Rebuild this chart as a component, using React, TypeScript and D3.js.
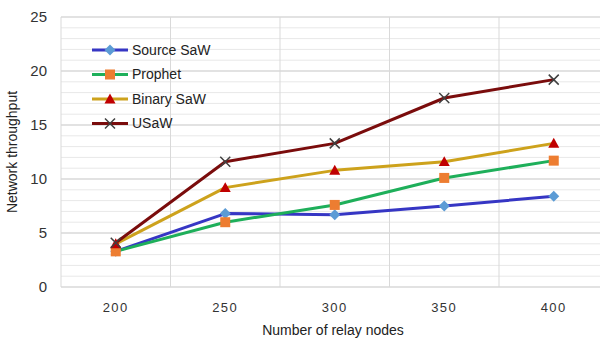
import React from "react";
import * as d3 from "d3";

const categories = ["200", "250", "300", "350", "400"];
const seriesNames = ["Source SaW", "Prophet", "Binary SaW", "USaW"];
const sourceSaW = [3.3, 6.8, 6.7, 7.5, 8.4];
const prophet = [3.3, 6.0, 7.6, 10.1, 11.7];
const binarySaW = [4.0, 9.2, 10.8, 11.6, 13.3];
const uSaW = [4.1, 11.6, 13.3, 17.5, 19.2];
const yTicks = [0, 5, 10, 15, 20, 25];
const minorTicks = d3.range(0, 26, 1);

const W = 600, H = 343;
const left = 61, right = 608.5, top = 17, bottom = 287;

const lineColors = ["#3636c4", "#1eaf5a", "#cda21c", "#7a0c0c"];
const markerColors = ["#5b9bd5", "#ed7d31", "#c00000", "#404040"];
const markerTypes = ["diamond", "square", "triangle", "x"];

function Marker({ type, x, y, color }: { type: string; x: number; y: number; color: string }) {
  if (type === "diamond") {
    const s = 5.5;
    return <path d={`M${x},${y - s}L${x + s},${y}L${x},${y + s}L${x - s},${y}Z`} fill={color} />;
  }
  if (type === "square") {
    const s = 5;
    return <rect x={x - s} y={y - s} width={2 * s} height={2 * s} fill={color} />;
  }
  if (type === "triangle") {
    const s = 5.5;
    return <path d={`M${x},${y - s}L${x + s},${y + s * 0.8}L${x - s},${y + s * 0.8}Z`} fill={color} />;
  }
  const s = 5;
  return (
    <path d={`M${x - s},${y - s}L${x + s},${y + s}M${x + s},${y - s}L${x - s},${y + s}`} stroke={color} strokeWidth={1.5} fill="none" />
  );
}

export default function App() {
  const x = d3.scaleBand<string>().domain(categories).range([left, right]).padding(0);
  const y = d3.scaleLinear().domain([0, 25]).range([bottom, top]);
  const data = [sourceSaW, prophet, binarySaW, uSaW];
  const line = d3
    .line<number>()
    .x((_, i) => (x(categories[i]) as number) + x.bandwidth() / 2)
    .y((d) => y(d));
  const font = "'Liberation Sans', Arial, sans-serif";
  const boundaries = categories.map((c) => x(c) as number);

  return (
    <svg width={W} height={H} style={{ position: "absolute", left: 0, top: 0, background: "#fff" }} fontFamily={font}>
      <rect width={W} height={H} fill="#fff" />
      {minorTicks.filter((t) => t % 5 !== 0).map((t) => (
        <line key={"m" + t} x1={left} x2={right} y1={y(t)} y2={y(t)} stroke="#e8e8e8" strokeWidth={1} />
      ))}
      {boundaries.map((b, i) => (
        <line key={"v" + i} x1={b} x2={b} y1={top} y2={bottom} stroke="#d9d9d9" strokeWidth={1} />
      ))}
      {yTicks.map((t) => (
        <line key={"g" + t} x1={left} x2={right} y1={y(t)} y2={y(t)} stroke="#d9d9d9" strokeWidth={1.5} />
      ))}
      {yTicks.map((t) => (
        <text key={"yt" + t} x={47} y={y(t)} dy="0.35em" textAnchor="end" fontSize={15} fill="#333">
          {t}
        </text>
      ))}
      {categories.map((c) => (
        <text key={"xt" + c} x={(x(c) as number) + x.bandwidth() / 2} y={312} textAnchor="middle" fontSize={13} letterSpacing={1.5} fill="#333">
          {c}
        </text>
      ))}
      <text x={333} y={335} textAnchor="middle" fontSize={14} fill="#222">
        Number of relay nodes
      </text>
      <text transform={`translate(17,${(top + bottom) / 2}) rotate(-90)`} textAnchor="middle" fontSize={14} fill="#222">
        Network throughput
      </text>
      {data.map((d, si) => (
        <path key={"l" + si} d={line(d) as string} fill="none" stroke={lineColors[si]} strokeWidth={3} strokeLinejoin="round" />
      ))}
      {data.map((d, si) =>
        d.map((v, i) => (
          <Marker key={"mk" + si + "-" + i} type={markerTypes[si]} x={(x(categories[i]) as number) + x.bandwidth() / 2} y={y(v)} color={markerColors[si]} />
        ))
      )}
      {seriesNames.map((n, si) => {
        const ly = 50 + si * 24.5;
        return (
          <g key={"lg" + si}>
            <line x1={92} x2={128} y1={ly} y2={ly} stroke={lineColors[si]} strokeWidth={3} />
            <Marker type={markerTypes[si]} x={110} y={ly} color={markerColors[si]} />
            <text x={132} y={ly} dy="0.35em" fontSize={14} fill="#222">
              {n}
            </text>
          </g>
        );
      })}
    </svg>
  );
}
